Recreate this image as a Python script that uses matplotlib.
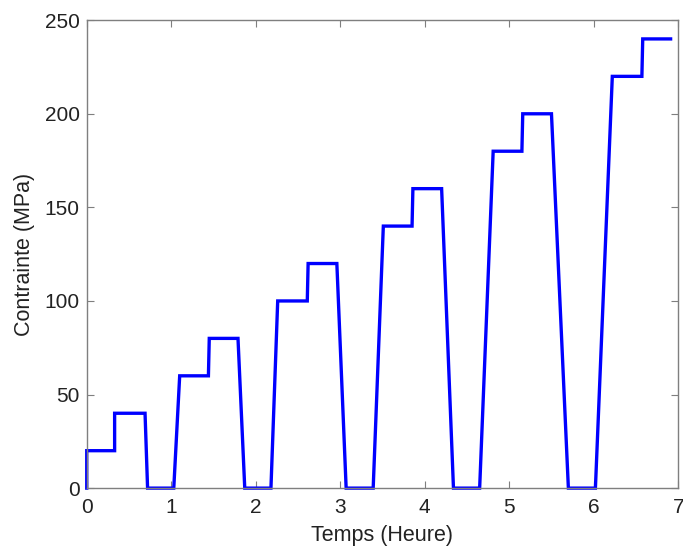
import matplotlib
matplotlib.use("Agg")
import matplotlib.pyplot as plt

time_h = [0, 0, 0.33, 0.33, 0.69, 0.72, 1.03, 1.10, 1.44, 1.45, 1.79, 1.87,
          2.18, 2.26, 2.61, 2.62, 2.96, 3.07, 3.39, 3.51, 3.85, 3.86, 4.20, 4.34,
          4.65, 4.81, 5.15, 5.16, 5.50, 5.70, 6.02, 6.22, 6.57, 6.58, 6.91]
stress_mpa = [0, 20, 20, 40, 40, 0, 0, 60, 60, 80, 80, 0,
              0, 100, 100, 120, 120, 0, 0, 140, 140, 160, 160, 0,
              0, 180, 180, 200, 200, 0, 0, 220, 220, 240, 240]
xticks = [0, 1, 2, 3, 4, 5, 6, 7]
yticks = [0, 50, 100, 150, 200, 250]

plt.rcParams['font.family'] = ['Liberation Sans', 'DejaVu Sans']
fig = plt.figure(figsize=(6.83, 5.46), dpi=100)
ax = fig.add_axes([0.127, 0.106, 0.866, 0.857])
ax.plot(time_h, stress_mpa, color='#0000ff', lw=2.4, solid_joinstyle='miter',
        clip_on=False)
ax.set_xlim(0, 7)
ax.set_ylim(0, 250)
ax.set_xticks(xticks)
ax.set_yticks(yticks)
for s in ax.spines.values():
    s.set_color('#7f7f7f')
    s.set_linewidth(1.0)
ax.tick_params(direction='in', length=5, color='#7f7f7f', labelsize=15,
               labelcolor='#222222', top=True, right=True)
ax.tick_params(axis='x', pad=7)
ax.tick_params(axis='y', pad=5)
ax.set_xlabel('Temps (Heure)', fontsize=15.5, color='#222222', labelpad=6)
ax.set_ylabel('Contrainte (MPa)', fontsize=15.5, color='#222222', labelpad=7)
fig.savefig('out.png', dpi=100)
